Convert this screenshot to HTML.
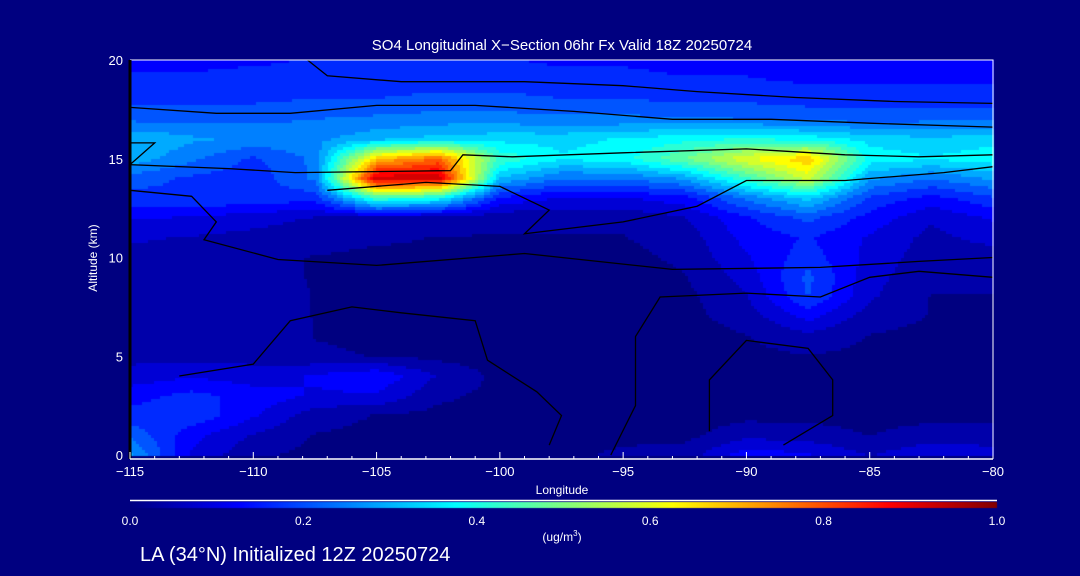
<!DOCTYPE html>
<html><head><meta charset="utf-8"><style>
html,body{margin:0;padding:0;background:#000080;width:1080px;height:576px;overflow:hidden}
#wrap{position:relative;width:1080px;height:576px;font-family:"Liberation Sans",sans-serif;color:#fff}
canvas{position:absolute;left:0;top:0}
svg{position:absolute;left:0;top:0}
</style></head><body>
<div id="wrap">
<canvas id="cv" width="1080" height="576"></canvas>
<svg id="sv" width="1080" height="576"></svg>
</div>
<script>
// ---- data ----
const lons = [-115,-112.5,-110,-107.5,-105,-102.5,-100,-97.5,-95,-92.5,-90,-87.5,-85,-82.5,-80];
const alts = [0,1,2,3,4,5,6,7,8,9,10,11,12,13,14,15,16,17,18,19,20];
// rows by altitude 0..20 km, columns by longitude
const so4 = [
[0.30,0.12,0.05,0.03,0.03,0.03,0.03,0.03,0.05,0.06,0.15,0.13,0.08,0.12,0.10],
[0.24,0.14,0.08,0.04,0.03,0.03,0.03,0.03,0.03,0.03,0.07,0.06,0.04,0.06,0.06],
[0.18,0.20,0.13,0.06,0.04,0.03,0.03,0.02,0.02,0.02,0.03,0.03,0.03,0.03,0.03],
[0.15,0.18,0.15,0.12,0.12,0.05,0.03,0.02,0.02,0.02,0.03,0.03,0.03,0.03,0.03],
[0.10,0.12,0.10,0.13,0.16,0.08,0.03,0.02,0.02,0.02,0.03,0.03,0.03,0.03,0.03],
[0.07,0.07,0.07,0.05,0.04,0.03,0.02,0.02,0.02,0.02,0.03,0.04,0.03,0.03,0.03],
[0.07,0.07,0.07,0.04,0.03,0.02,0.02,0.02,0.02,0.02,0.04,0.07,0.04,0.03,0.03],
[0.07,0.07,0.07,0.04,0.03,0.02,0.02,0.02,0.02,0.03,0.06,0.14,0.06,0.04,0.04],
[0.06,0.06,0.06,0.04,0.03,0.02,0.02,0.02,0.02,0.03,0.08,0.21,0.09,0.04,0.04],
[0.06,0.06,0.05,0.04,0.03,0.02,0.02,0.02,0.02,0.04,0.10,0.22,0.10,0.05,0.05],
[0.07,0.06,0.05,0.04,0.03,0.03,0.03,0.03,0.03,0.05,0.12,0.19,0.11,0.06,0.06],
[0.09,0.08,0.07,0.06,0.05,0.04,0.04,0.04,0.04,0.06,0.14,0.17,0.12,0.07,0.10],
[0.13,0.12,0.10,0.08,0.07,0.06,0.05,0.05,0.05,0.08,0.16,0.22,0.15,0.09,0.13],
[0.19,0.20,0.20,0.18,0.45,0.40,0.16,0.12,0.12,0.15,0.26,0.35,0.20,0.15,0.20],
[0.23,0.20,0.18,0.26,0.95,0.95,0.33,0.25,0.25,0.30,0.45,0.60,0.30,0.25,0.30],
[0.32,0.26,0.20,0.26,0.70,0.80,0.45,0.38,0.40,0.50,0.62,0.70,0.40,0.38,0.40],
[0.33,0.30,0.28,0.28,0.32,0.35,0.36,0.36,0.38,0.40,0.42,0.40,0.36,0.34,0.36],
[0.24,0.24,0.24,0.25,0.26,0.27,0.27,0.26,0.26,0.26,0.25,0.24,0.23,0.24,0.24],
[0.20,0.20,0.20,0.21,0.21,0.22,0.22,0.21,0.21,0.20,0.20,0.19,0.19,0.19,0.19],
[0.17,0.17,0.18,0.18,0.18,0.19,0.19,0.18,0.18,0.17,0.17,0.16,0.16,0.16,0.16],
[0.16,0.16,0.16,0.17,0.17,0.17,0.17,0.16,0.16,0.15,0.15,0.14,0.14,0.14,0.14]
];
const xTicks = [-115,-110,-105,-100,-95,-90,-85,-80];
const yTicks = [0,5,10,15,20];
const cbTicks = [0.0,0.2,0.4,0.6,0.8,1.0];
// contour lines of secondary field, as [lon, alt] pairs
const contourA = [[-107.8,20],[-107,19.2],[-104,18.9],[-99,18.9],[-95,18.7],[-92,18.4],[-88,18.1],[-84,17.9],[-80,17.8]];
const contourB = [[-115,17.6],[-111.5,17.3],[-108.5,17.3],[-105,17.7],[-101,17.7],[-97,17.4],[-93,17.0],[-89,17.0],[-85,16.8],[-80,16.6]];
const contourC = [[-115,15.8],[-114,15.8],[-115,14.7],[-111,14.5],[-108.3,14.3],[-102,14.4],[-101.5,15.2],[-99.5,15.1],[-95,15.3],[-90,15.5],[-86,15.2],[-83,15.1],[-80,15.2]];
const contourD = [[-115,13.4],[-112.5,13.1],[-111.5,11.8],[-112,10.9],[-109,9.9],[-105,9.6],[-99,10.2],[-93,9.4],[-87,9.5],[-83,9.8],[-80,10.0]];
const contourE = [[-107,13.4],[-103,13.8],[-100,13.6],[-98,12.4],[-99,11.2],[-95,11.8],[-92,12.6],[-90,13.9],[-86,13.9],[-82,14.3],[-80,14.6]];
const contourF = [[-113,4],[-110,4.6],[-108.5,6.8],[-106,7.5],[-104,7.2],[-101,6.8],[-100.5,4.8],[-98.5,3.2],[-97.5,2.0],[-98,0.5]];
const contourG = [[-95.5,0],[-94.5,2.5],[-94.5,6.0],[-93.5,8.0],[-90,8.2],[-87,8.0],[-85,9.0],[-83,9.3],[-80,9.0]];
const contourH = [[-91.5,1.2],[-91.5,3.8],[-90,5.8],[-87.5,5.4],[-86.5,3.8],[-86.5,2.0],[-88.5,0.5]];
// ---- axes ----
const PL=130, PR=993, PT=60, PB=455;
const xS = v => PL + (v - (-115)) / 35 * (PR - PL);
const yS = v => PB - v / 20 * (PB - PT);
const stops=[[0,[0,0,128]],[0.125,[0,0,255]],[0.375,[0,255,255]],[0.5,[128,255,128]],[0.625,[255,255,0]],[0.875,[255,0,0]],[1,[128,0,0]]];
function cmap(v){v=Math.max(0,Math.min(1,v));for(let i=1;i<stops.length;i++){if(v<=stops[i][0]){const a=stops[i-1],b=stops[i];const t=(v-a[0])/(b[0]-a[0]);return a[1].map((c,k)=>Math.round(c+(b[1][k]-c)*t));}}return stops[6][1];}
function sample(lon,alt){
  let fx=(lon-lons[0])/2.5, fy=alt;
  fx=Math.max(0,Math.min(lons.length-1.0001,fx)); fy=Math.max(0,Math.min(alts.length-1.0001,fy));
  const i=Math.floor(fx), j=Math.floor(fy), tx=fx-i, ty=fy-j;
  const a=so4[j][i], b=so4[j][i+1], c=so4[j+1][i], d=so4[j+1][i+1];
  return a*(1-tx)*(1-ty)+b*tx*(1-ty)+c*(1-tx)*ty+d*tx*ty;
}
const ctx=document.getElementById('cv').getContext('2d');
const step=3;
for(let px=PL;px<PR;px+=step){for(let py=PT;py<PB;py+=step){
  const lon=-115+(px+step/2-PL)/(PR-PL)*35, alt=(PB-(py+step/2))/(PB-PT)*20;
  let v=sample(lon,alt); v=Math.floor(v*24)/24;
  const c=cmap(v); ctx.fillStyle=`rgb(${c[0]},${c[1]},${c[2]})`;
  ctx.fillRect(px,py,step,step);
}}
// colorbar
for(let px=130;px<997;px++){const c=cmap((px-130)/867);ctx.fillStyle=`rgb(${c[0]},${c[1]},${c[2]})`;ctx.fillRect(px,502,1,6);}
const sv=document.getElementById('sv'), NS='http://www.w3.org/2000/svg';
function mk(tag,attrs,parent){const e=document.createElementNS(NS,tag);for(const k in attrs)e.setAttribute(k,attrs[k]);(parent||sv).appendChild(e);return e;}
function txt(x,y,s,size,anchor,name){const t=mk('text',{x:x,y:y,fill:'#fff','font-size':size,'text-anchor':anchor||'middle','font-family':'Liberation Sans, sans-serif'});t.textContent=s;


return t;}
[contourA,contourB,contourC,contourD,contourE,contourF,contourG,contourH].forEach((ln,k)=>{
  const p=mk('polyline',{points:ln.map(q=>xS(q[0]).toFixed(1)+','+yS(q[1]).toFixed(1)).join(' '),fill:'none',stroke:'#000','stroke-width':1.3});
  
  
});
// frame
const fr=mk('path',{d:`M${PL} ${PT}H${PR}V${PB+4}`,fill:'none',stroke:'#fff','stroke-width':1});


const la=mk('line',{x1:PL,y1:PT,x2:PL,y2:PB+4,stroke:'#000','stroke-width':3});


const xa=mk('line',{x1:PL,y1:PB+4,x2:PR,y2:PB+4,stroke:'#fff','stroke-width':1.5});


for(let l=-115;l<=-80;l++){const major=xTicks.includes(l);const t=mk('line',{x1:xS(l),x2:xS(l),y1:PB+4,y2:PB+(major?-3:1),stroke:'#fff','stroke-width':1});

}
xTicks.forEach(l=>txt(xS(l),476,(l<0?'\u2212':'')+Math.abs(l),13,'middle','x-tick-label'));
yTicks.forEach(a=>txt(123,yS(a)+5,String(a),13,'end','y-tick-label'));
txt(562,494,'Longitude',12,'middle','x-axis-title');
const yt=txt(97,258,'Altitude (km)',12,'middle','y-axis-title');yt.setAttribute('transform','rotate(-90 97 258)');
txt(562,50,'SO4 Longitudinal X\u2212Section 06hr  Fx Valid 18Z 20250724',15,'middle','chart-title');
const cl=mk('line',{x1:130,y1:500.5,x2:997,y2:500.5,stroke:'#fff','stroke-width':1.5});


cbTicks.forEach(v=>txt(130+v*867,525,v.toFixed(1),12,'middle','colorbar-tick-label'));
const u=txt(562,541,'(ug/m',12,'middle','colorbar-units');const sup=mk('tspan',{dy:-5,'font-size':8},u);sup.textContent='3';const cp=mk('tspan',{dy:5},u);cp.textContent=')';
txt(140,561,'LA (34\u00B0N) Initialized 12Z 20250724',20,'start','footer-label');
</script>
</body></html>
